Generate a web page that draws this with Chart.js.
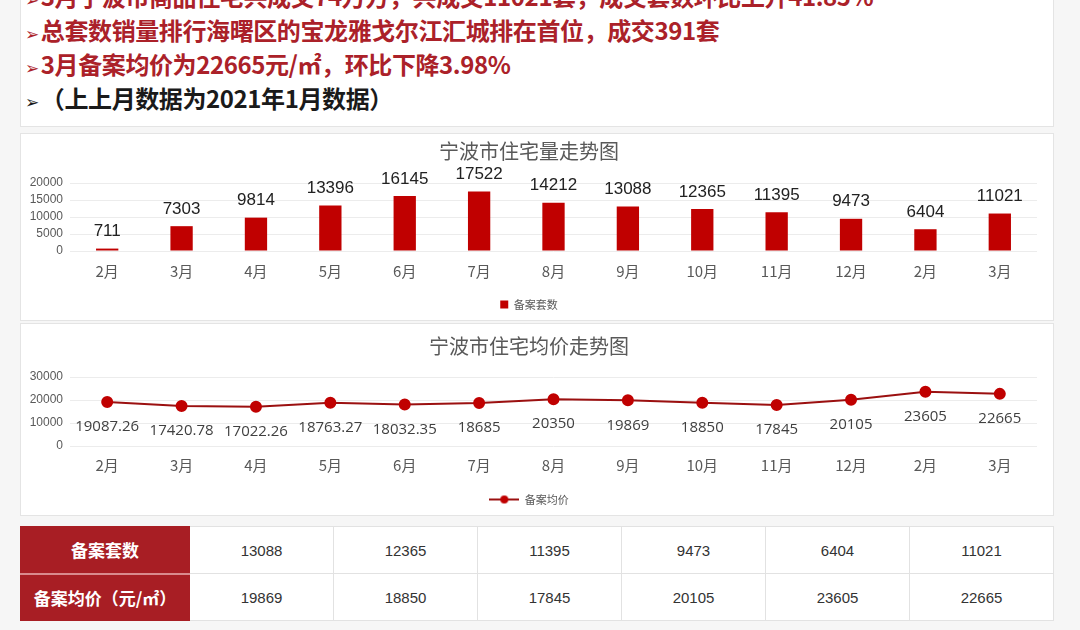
<!DOCTYPE html>
<html lang="zh-CN">
<head>
<meta charset="utf-8">
<title>宁波市住宅走势</title>
<script src="https://cdn.jsdelivr.net/npm/chart.js@4/dist/chart.umd.min.js"></script>
<style>
  html, body { margin: 0; padding: 0; }
  body {
    width: 1080px; height: 630px; overflow: hidden; position: relative;
    background: #f6f6f6;
    font-family: "Noto Sans CJK SC", "Noto Sans", sans-serif;
  }
  .panel { position: absolute; background: #fff; border: 1px solid #e4e4e4; box-sizing: border-box; }
  .notes { left: 20px; top: -30px; width: 1034px; height: 157px; }
  .notes-text {
    position: absolute; left: 4px; top: 8px;
    font-size: 24px; font-weight: 700; color: #ab2129;
    white-space: nowrap; letter-spacing: -0.4px;
  }
  .notes-text div { height: 34px; line-height: 34px; }
  .notes-text .dark { color: #1a1a1a; }
  .arrow { font-family: "DejaVu Sans", sans-serif; font-size: 17px; font-weight: 400; margin-right: 2px; line-height: 0; }
  .chart-box { left: 20px; width: 1034px; }
  #box-count { top: 133px; height: 188px; }
  #box-price { top: 323px; height: 193px; }
  .chart-box canvas { display: block; }
  table.summary {
    position: absolute; left: 20px; top: 526px; width: 1034px; height: 95px;
    border-collapse: collapse; background: #fff; table-layout: fixed;
  }
  table.summary td {
    border: 1px solid #e2e2e2; text-align: center; color: #333;
    font-family: "Liberation Sans Narrow", "Liberation Sans", sans-serif; font-size: 15px;
  }
  table.summary td.head {
    width: 166px; background: #a81e24; color: #fff; border-color: #a81e24;
    font-family: "Noto Sans CJK SC", sans-serif; font-weight: 700; font-size: 17px;
  }
  table.summary tr:first-child td.head { border-bottom: 2px solid #d98a8d; }
</style>
</head>
<body>

<div class="panel notes">
  <div class="notes-text">
    <div><span class="arrow">➢</span>3月宁波市商品住宅共成交74万方，共成交11021套，成交套数环比上升41.85%</div>
    <div><span class="arrow">➢</span>总套数销量排行海曙区的宝龙雅戈尔江汇城排在首位，成交391套</div>
    <div><span class="arrow">➢</span>3月备案均价为22665元/㎡，环比下降3.98%</div>
    <div class="dark"><span class="arrow">➢</span>（上上月数据为2021年1月数据）</div>
  </div>
</div>

<div class="panel chart-box" id="box-count"><canvas id="count-chart"></canvas></div>
<div class="panel chart-box" id="box-price"><canvas id="price-chart"></canvas></div>

<table class="summary" id="summary"></table>

<script>
// ---- data ----
var months = ['2月', '3月', '4月', '5月', '6月', '7月', '8月', '9月', '10月', '11月', '12月', '2月', '3月'];
var unitCounts = [711, 7303, 9814, 13396, 16145, 17522, 14212, 13088, 12365, 11395, 9473, 6404, 11021];
var avgPrices = [19087.26, 17420.78, 17022.26, 18763.27, 18032.35, 18685, 20350, 19869, 18850, 17845, 20105, 23605, 22665];
var countTicks = [0, 5000, 10000, 15000, 20000];
var priceTicks = [0, 10000, 20000, 30000];
var tableRows = ['备案套数', '备案均价（元/㎡）'];
var tableCols = 6; // last six months go in the table

(function () {
  'use strict';

  var RED = '#c00000';
  var GREY = '#595959';
  var CJK = '"Noto Sans CJK SC", sans-serif';

  // value labels drawn at each element's own position
  var valueLabels = {
    id: 'valueLabels',
    afterDatasetsDraw: function (chart, args, opts) {
      var ctx = chart.ctx;
      var meta = chart.getDatasetMeta(0);
      var values = chart.data.datasets[0].data;
      ctx.save();
      ctx.font = opts.font;
      ctx.fillStyle = opts.color;
      ctx.textAlign = 'center';
      ctx.textBaseline = 'middle';
      meta.data.forEach(function (el, i) {
        ctx.fillText(String(values[i]), el.x, el.y + opts.offset);
      });
      ctx.restore();
    }
  };

  function sizeCanvas(id, w, h) {
    var c = document.getElementById(id);
    c.width = w; c.height = h;
    c.style.width = w + 'px'; c.style.height = h + 'px';
    return c;
  }

  function yScale(ticks, step, width) {
    return {
      min: ticks[0], max: ticks[ticks.length - 1],
      ticks: {
        stepSize: step, color: GREY, padding: 7, autoSkip: false,
        font: { size: 12, family: '"Liberation Sans", sans-serif' },
        callback: function (v) { return String(v); }
      },
      grid: { color: '#ececec', drawTicks: false },
      border: { display: false },
      afterFit: function (s) { s.width = width; }
    };
  }

  function xScale(pad) {
    return {
      offset: true,
      grid: { display: false, drawTicks: false, offset: true },
      border: { display: false },
      ticks: { color: GREY, padding: pad, font: { size: 15, family: CJK } }
    };
  }

  // ---- count chart ----
  var c1 = sizeCanvas('count-chart', 1032, 186);
  new Chart(c1.getContext('2d'), {
    type: 'bar',
    data: {
      labels: months,
      datasets: [{
        label: '备案套数',
        data: unitCounts,
        backgroundColor: RED,
        barPercentage: 0.3,
        categoryPercentage: 1
      }]
    },
    options: {
      responsive: false,
      animation: false,
      layout: { padding: { left: 0, right: 16, top: 0, bottom: 0 } },
      plugins: {
        title: { display: true, text: '宁波市住宅量走势图', color: GREY, font: { size: 20, family: CJK, weight: 'normal' }, padding: { top: 5, bottom: 20 } },
        legend: {
          position: 'bottom',
          labels: { boxWidth: 8, boxHeight: 8, color: GREY, font: { size: 11, family: CJK }, padding: 8 }
        },
        tooltip: { enabled: false },
        valueLabels: { font: '17px "Liberation Sans", sans-serif', color: '#222', offset: -17 }
      },
      scales: { x: xScale(11), y: yScale(countTicks, 5000, 49) }
    },
    plugins: [valueLabels]
  });

  // legend marker for the price line: short line with a dot
  var marker = document.createElement('canvas');
  marker.width = 30; marker.height = 10;
  var mctx = marker.getContext('2d');
  mctx.strokeStyle = '#9b1010'; mctx.lineWidth = 2;
  mctx.beginPath(); mctx.moveTo(0, 5); mctx.lineTo(30, 5); mctx.stroke();
  mctx.fillStyle = RED;
  mctx.beginPath(); mctx.arc(15, 5, 4, 0, Math.PI * 2); mctx.fill();

  // ---- price chart ----
  var c2 = sizeCanvas('price-chart', 1032, 191);
  new Chart(c2.getContext('2d'), {
    type: 'line',
    data: {
      labels: months,
      datasets: [{
        label: '备案均价',
        data: avgPrices,
        borderColor: '#9b1010',
        borderWidth: 2,
        pointRadius: 5,
        pointBackgroundColor: RED,
        pointBorderColor: RED,
        pointStyle: 'circle',
        tension: 0
      }]
    },
    options: {
      responsive: false,
      animation: false,
      layout: { padding: { left: 0, right: 16, top: 0, bottom: 0 } },
      plugins: {
        title: { display: true, text: '宁波市住宅均价走势图', color: GREY, font: { size: 20, family: CJK, weight: 'normal' }, padding: { top: 10, bottom: 19 } },
        legend: {
          position: 'bottom',
          labels: {
            color: GREY, font: { size: 11, family: CJK }, padding: 10,
            usePointStyle: true, pointStyleWidth: 30, boxHeight: 10,
            generateLabels: function (chart) {
              var items = Chart.defaults.plugins.legend.labels.generateLabels(chart);
              items.forEach(function (it) { it.pointStyle = marker; });
              return items;
            }
          }
        },
        tooltip: { enabled: false },
        valueLabels: { font: '15px "Open Sans", sans-serif', color: '#404040', offset: 25 }
      },
      scales: { x: xScale(10), y: yScale(priceTicks, 10000, 49) }
    },
    plugins: [valueLabels]
  });

  // ---- summary table ----
  var start = months.length - tableCols;
  var series = [unitCounts, avgPrices];
  var html = '';
  tableRows.forEach(function (name, r) {
    html += '<tr><td class="head">' + name + '</td>';
    series[r].slice(start).forEach(function (v) {
      html += '<td>' + v + '</td>';
    });
    html += '</tr>';
  });
  document.getElementById('summary').innerHTML = html;
})();
</script>
</body>
</html>
